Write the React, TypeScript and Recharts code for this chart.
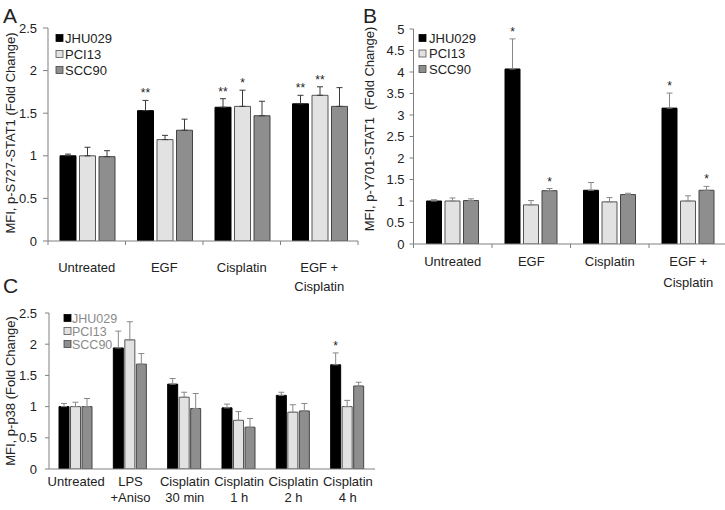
import React from 'react';
import { BarChart, Bar, XAxis, YAxis, ErrorBar, LabelList } from 'recharts';

const FONT = '"Liberation Sans", Arial, sans-serif';
const AXIS = '#808080';
const TEXT = '#222';

// series shared by all three panels
const seriesNames = ['JHU029', 'PCI13', 'SCC90'];
const seriesFill = ['#000000', '#e2e2e2', '#8e8e8e'];
const seriesStroke = ['#000000', '#555555', '#444444'];

// panel A: p-S727-STAT1
const catsA = ['Untreated', 'EGF', 'Cisplatin', 'EGF +\nCisplatin'];
const aJHU = [1.0, 1.53, 1.57, 1.61];
const aPCI = [1.0, 1.19, 1.58, 1.71];
const aSCC = [0.99, 1.3, 1.47, 1.58];
const aJHUErr = [0.02, 0.12, 0.1, 0.1];
const aPCIErr = [0.1, 0.05, 0.19, 0.1];
const aSCCErr = [0.07, 0.13, 0.17, 0.22];
const aJHUSig = ['', '**', '**', '**'];
const aPCISig = ['', '', '*', '**'];
const aSCCSig = ['', '', '', ''];
const ticksA = [0, 0.5, 1, 1.5, 2, 2.5];

// panel B: p-Y701-STAT1
const catsB = ['Untreated', 'EGF', 'Cisplatin', 'EGF +\nCisplatin'];
const bJHU = [1.0, 4.07, 1.25, 3.16];
const bPCI = [1.0, 0.91, 0.98, 1.0];
const bSCC = [1.01, 1.24, 1.15, 1.25];
const bJHUErr = [0.03, 0.7, 0.18, 0.35];
const bPCIErr = [0.07, 0.1, 0.1, 0.12];
const bSCCErr = [0.04, 0.05, 0.03, 0.09];
const bJHUSig = ['', '*', '', '*'];
const bPCISig = ['', '', '', ''];
const bSCCSig = ['', '*', '', '*'];
const ticksB = [0, 0.5, 1, 1.5, 2, 2.5, 3, 3.5, 4, 4.5, 5];

// panel C: p-p38
const catsC = ['Untreated', 'LPS\n+Aniso', 'Cisplatin\n30 min', 'Cisplatin\n1 h', 'Cisplatin\n2 h', 'Cisplatin\n4 h'];
const cJHU = [1.0, 1.94, 1.36, 0.98, 1.18, 1.67];
const cPCI = [1.0, 2.07, 1.15, 0.78, 0.91, 1.0];
const cSCC = [1.0, 1.68, 0.97, 0.67, 0.93, 1.33];
const cJHUErr = [0.05, 0.27, 0.09, 0.06, 0.05, 0.19];
const cPCIErr = [0.07, 0.29, 0.08, 0.14, 0.12, 0.1];
const cSCCErr = [0.13, 0.17, 0.24, 0.14, 0.12, 0.06];
const cJHUSig = ['', '', '', '', '', '*'];
const cPCISig = ['', '', '', '', '', ''];
const cSCCSig = ['', '', '', '', '', ''];
const ticksC = [0, 0.5, 1, 1.5, 2, 2.5];

// error bars are drawn upward only: [below, above]
function buildRows(cats: string[], vals: number[][], errs: number[][], sigs: string[][]) {
  return cats.map((name, i) => {
    const row: any = { name };
    vals.forEach((v, s) => {
      row['v' + s] = v[i];
      row['e' + s] = [0, errs[s][i]];
      row['g' + s] = sigs[s][i];
    });
    return row;
  });
}

const rowsA = buildRows(catsA, [aJHU, aPCI, aSCC], [aJHUErr, aPCIErr, aSCCErr], [aJHUSig, aPCISig, aSCCSig]);
const rowsB = buildRows(catsB, [bJHU, bPCI, bSCC], [bJHUErr, bPCIErr, bSCCErr], [bJHUSig, bPCISig, bSCCSig]);
const rowsC = buildRows(catsC, [cJHU, cPCI, cSCC], [cJHUErr, cPCIErr, cSCCErr], [cJHUSig, cPCISig, cSCCSig]);

type Panel = {
  rows: any[];
  left: number; top: number; width: number; height: number;
  margin: { top: number; right: number; bottom: number; left: number };
  yWidth: number; xHeight: number; yMax: number; yTicks: number[];
  yTickSize: number; yTickMargin: number;
  catGap: number; barGap: number;
  line1: number; lineStep: number; xMarks: boolean; errColor: string;
};

function ChartPanel({ p }: { p: Panel }) {
  const plotW = p.width - p.margin.left - p.margin.right - p.yWidth;
  const plotH = p.height - p.margin.top - p.margin.bottom - p.xHeight;
  const n = p.rows.length;
  const half = plotW / n / 2;
  const pxPerUnit = plotH / p.yMax;

  const XTick = (props: any) => {
    const { x, y, payload, index } = props;
    const lines = String(payload.value).split('\n');
    return (
      <g>
        {p.xMarks && <line x1={x - half} x2={x - half} y1={y} y2={y + 4} stroke={AXIS} />}
        {p.xMarks && index === n - 1 && <line x1={x + half} x2={x + half} y1={y} y2={y + 4} stroke={AXIS} />}
        <text x={x} y={y + p.line1} textAnchor="middle" fontSize={13} fontFamily={FONT} fill={TEXT}>
          {lines.map((l, k) => (
            <tspan key={k} x={x} dy={k === 0 ? 0 : p.lineStep}>{l}</tspan>
          ))}
        </text>
      </g>
    );
  };

  const makeStar = (s: number) => (props: any) => {
    const { index, value } = props;
    if (!value) return null;
    const vb = props.viewBox ?? props;
    const x = vb.x ?? props.x;
    const y = vb.y ?? props.y;
    const w = vb.width ?? props.width;
    const err = p.rows[index]['e' + s][1];
    return (
      <text x={x + w / 2} y={y - err * pxPerUnit - 3} textAnchor="middle" fontSize={12} fontFamily={FONT} fill={TEXT}>
        {value}
      </text>
    );
  };

  return (
    <div style={{ position: 'absolute', left: p.left, top: p.top }}>
      <BarChart
        width={p.width}
        height={p.height}
        data={p.rows}
        margin={p.margin}
        barCategoryGap={p.catGap}
        barGap={p.barGap}
      >
        <XAxis
          dataKey="name"
          interval={0}
          height={p.xHeight}
          tickSize={0}
          tickMargin={0}
          tickLine={false}
          axisLine={{ stroke: AXIS }}
          tick={<XTick />}
        />
        <YAxis
          domain={[0, p.yMax]}
          ticks={p.yTicks}
          interval={0}
          allowDataOverflow
          width={p.yWidth}
          tickSize={p.yTickSize}
          tickMargin={p.yTickMargin}
          axisLine={{ stroke: AXIS }}
          tickLine={{ stroke: AXIS }}
          tick={{ fontSize: 13, fill: TEXT, fontFamily: FONT }}
        />
        {seriesNames.map((name, s) => (
          <Bar
            key={name}
            dataKey={'v' + s}
            name={name}
            fill={seriesFill[s]}
            stroke={seriesStroke[s]}
            strokeWidth={1}
            isAnimationActive={false}
          >
            <ErrorBar dataKey={'e' + s} width={3} stroke={p.errColor} strokeWidth={1} direction="y" isAnimationActive={false} />
            <LabelList dataKey={'g' + s} content={makeStar(s)} />
          </Bar>
        ))}
      </BarChart>
    </div>
  );
}

const panels: Panel[] = [
  {
    rows: rowsA, left: 0, top: 0, width: 370, height: 300,
    margin: { top: 28, right: 12, bottom: 19, left: 0 },
    yWidth: 48, xHeight: 40, yMax: 2.5, yTicks: ticksA,
    yTickSize: 5, yTickMargin: 6, catGap: 12, barGap: 3.5,
    line1: 31, lineStep: 19, xMarks: true, errColor: '#3a3a3a',
  },
  {
    rows: rowsB, left: 360, top: 0, width: 370, height: 300,
    margin: { top: 29, right: 2.5, bottom: 16, left: 0 },
    yWidth: 53.5, xHeight: 40, yMax: 5, yTicks: ticksB,
    yTickSize: 4, yTickMargin: 5, catGap: 13, barGap: 3.5,
    line1: 22, lineStep: 21, xMarks: true, errColor: '#888888',
  },
  {
    rows: rowsC, left: 0, top: 270, width: 400, height: 240,
    margin: { top: 43, right: 25, bottom: 5, left: 0 },
    yWidth: 49, xHeight: 36, yMax: 2.5, yTicks: ticksC,
    yTickSize: 4, yTickMargin: 8, catGap: 10, barGap: 1.5,
    line1: 17, lineStep: 16, xMarks: false, errColor: '#888888',
  },
];

// panel letters, axis titles and legends
const letters = [
  { t: 'A', x: 3, y: 23 },
  { t: 'B', x: 363, y: 23 },
  { t: 'C', x: 3, y: 293 },
];
const titles = [
  { t: 'MFI, p-S727-STAT1 (Fold Change)', x: 10, y: 133 },
  { t: 'MFI, p-Y701-STAT1\u00a0\u00a0(Fold Change)', x: 369, y: 129 },
  { t: 'MFI, p-p38 (Fold Change)', x: 10, y: 391 },
];
const legends = [
  { sq: 56, tx: 65, ys: [38, 54, 70], color: TEXT, size: 13 },
  { sq: 419, tx: 429, ys: [38, 53.5, 69], color: TEXT, size: 13 },
  { sq: 64, tx: 72, ys: [318, 331, 344], color: '#8a8a8a', size: 12.5 },
];

export default function App() {
  return (
    <div style={{ position: 'absolute', left: 0, top: 0, width: 725, height: 510, overflow: 'hidden', background: '#fff' }}>
      {panels.map((p, i) => (
        <ChartPanel key={i} p={p} />
      ))}
      <svg width={725} height={510} style={{ position: 'absolute', left: 0, top: 0, pointerEvents: 'none' }}>
        {letters.map((l) => (
          <text key={l.t} x={l.x} y={l.y} fontSize={21} fontFamily={FONT} fill={TEXT}>{l.t}</text>
        ))}
        {titles.map((t, i) => (
          <text
            key={i}
            x={t.x}
            y={t.y}
            dy="0.35em"
            transform={`rotate(-90 ${t.x} ${t.y})`}
            textAnchor="middle"
            fontSize={13}
            fontFamily={FONT}
            fill={TEXT}
          >
            {t.t}
          </text>
        ))}
        {legends.map((lg, i) => (
          <g key={i}>
            {seriesNames.map((name, s) => (
              <g key={name}>
                <rect x={lg.sq} y={lg.ys[s] - 3.5} width={7} height={7} fill={seriesFill[s]} stroke={seriesStroke[s]} strokeWidth={0.8} />
                <text x={lg.tx} y={lg.ys[s]} dy="0.36em" fontSize={lg.size} fontFamily={FONT} fill={lg.color}>{name}</text>
              </g>
            ))}
          </g>
        ))}
      </svg>
    </div>
  );
}
